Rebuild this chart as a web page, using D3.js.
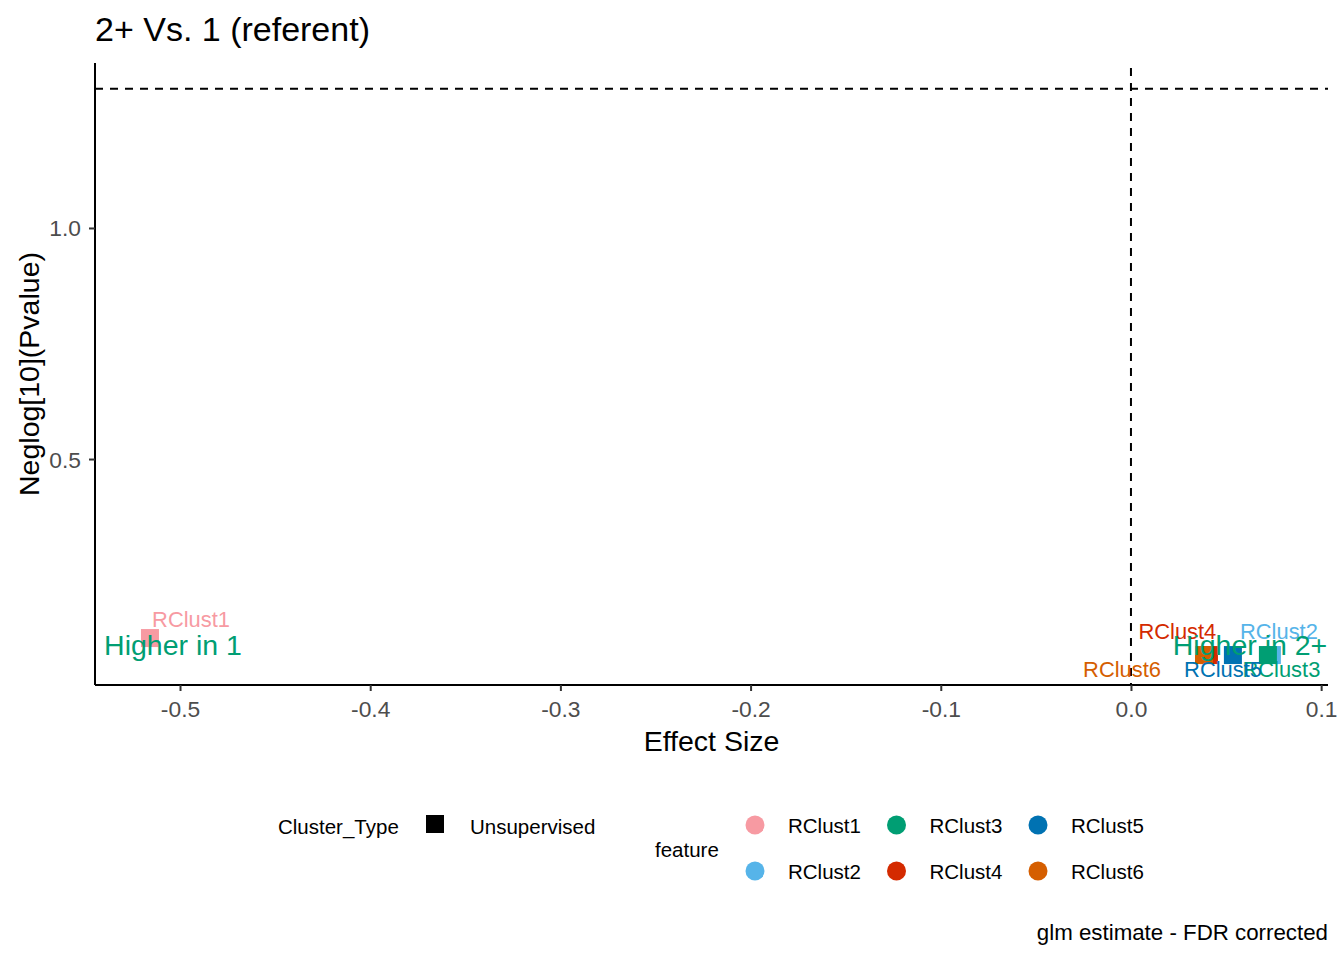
<!DOCTYPE html>
<html>
<head>
<meta charset="utf-8">
<script src="https://cdn.jsdelivr.net/npm/d3@7"></script>
<style>
  body { margin: 0; background: #fff; }
  text { font-family: "Liberation Sans", Arial, sans-serif; }
</style>
</head>
<body>
<div id="chart"></div>
<script>
// Data
const features = ["RClust1", "RClust2", "RClust3", "RClust4", "RClust5", "RClust6"];
const effect = [-0.5158, 0.0741, 0.0720, 0.0410, 0.0536, 0.0384];
const negLogP = [0.1126, 0.0758, 0.0758, 0.0758, 0.0758, 0.0758];
// repelled label anchors (data units)
const labelX = [-0.4942, 0.0778, 0.0791, 0.0244, 0.0484, -0.0047];
const labelY = [0.1537, 0.1277, 0.0455, 0.1277, 0.0455, 0.0455];
const colors = ["#F79AA2", "#56B4E9", "#009E73", "#D42A00", "#0072B2", "#D55E00"];
const xTicks = [-0.5, -0.4, -0.3, -0.2, -0.1, 0.0, 0.1];
const yTicks = [0.5, 1.0];
const sigLine = -Math.log10(0.05);
const notes = [
  { text: "Higher in 1", x: -0.5037, y: 0.0974 },
  { text: "Higher in 2+", x: 0.0626, y: 0.0974 }
];

const W = 1344, H = 960;
const m = { left: 95, right: 1328, top: 63, bottom: 685 };

const svg = d3.select("#chart").append("svg")
    .attr("width", W)
    .attr("height", H);

const x = d3.scaleLinear().domain([-0.5447, 0.1036]).range([m.left, m.right]);
const y = d3.scaleLinear().domain([0.011, 1.357]).range([m.bottom, m.top]);

// hyphen instead of unicode minus, like R
const fmt = d => d.toFixed(1);

// reference lines
svg.append("line")
    .attr("x1", m.left).attr("x2", m.right)
    .attr("y1", y(sigLine)).attr("y2", y(sigLine))
    .attr("stroke", "#000").attr("stroke-width", 2)
    .attr("stroke-dasharray", "8,7");
svg.append("line")
    .attr("x1", x(0)).attr("x2", x(0))
    .attr("y1", m.top + 5).attr("y2", m.bottom)
    .attr("stroke", "#000").attr("stroke-width", 2)
    .attr("stroke-dasharray", "8,7");

// axes
const xAxis = svg.append("g")
    .attr("transform", `translate(0,${m.bottom})`)
    .call(d3.axisBottom(x).tickValues(xTicks).tickFormat(fmt).tickSize(6).tickSizeOuter(0));
const yAxis = svg.append("g")
    .attr("transform", `translate(${m.left},0)`)
    .call(d3.axisLeft(y).tickValues(yTicks).tickFormat(fmt).tickSize(6).tickSizeOuter(0));

[xAxis, yAxis].forEach(g => {
    g.select(".domain").attr("stroke", "#000").attr("stroke-width", 2);
    g.selectAll(".tick line").attr("stroke", "#333").attr("stroke-width", 2);
    g.selectAll(".tick text")
        .attr("fill", "#4D4D4D")
        .style("font-size", "22.8px")
        .style("font-family", "'Liberation Sans', Arial, sans-serif");
});
xAxis.selectAll(".tick text").attr("dy", null).attr("y", 32);
yAxis.selectAll(".tick text").attr("x", -14).attr("dy", "0.35em");
xAxis.select(".domain").attr("d", `M${m.left},0H${m.right}`);
yAxis.select(".domain").attr("d", `M0,${m.top}V${m.bottom}`);

// points (squares)
const sq = 18;
svg.append("g").selectAll("rect")
    .data(features)
    .join("rect")
    .attr("x", (d, i) => x(effect[i]) - sq / 2)
    .attr("y", (d, i) => y(negLogP[i]) - sq / 2)
    .attr("width", sq)
    .attr("height", sq)
    .attr("fill", (d, i) => colors[i]);

// point labels
svg.append("g").selectAll("text")
    .data(features)
    .join("text")
    .attr("x", (d, i) => x(labelX[i]))
    .attr("y", (d, i) => y(labelY[i]))
    .attr("text-anchor", "middle")
    .attr("dominant-baseline", "central")
    .attr("fill", (d, i) => colors[i])
    .style("font-size", "21.9px")
    .text(d => d);

// annotations
svg.append("g").selectAll("text")
    .data(notes)
    .join("text")
    .attr("x", d => x(d.x))
    .attr("y", d => y(d.y))
    .attr("text-anchor", "middle")
    .attr("dominant-baseline", "central")
    .attr("fill", "#009E73")
    .style("font-size", "28.5px")
    .text(d => d.text);

// titles
svg.append("text")
    .attr("x", 95).attr("y", 41)
    .style("font-size", "34px")
    .text("2+ Vs. 1 (referent)");
svg.append("text")
    .attr("x", (m.left + m.right) / 2).attr("y", 751)
    .attr("text-anchor", "middle")
    .style("font-size", "28.5px")
    .text("Effect Size");
svg.append("text")
    .attr("transform", `translate(39,${(m.top + m.bottom) / 2}) rotate(-90)`)
    .attr("text-anchor", "middle")
    .style("font-size", "28.5px")
    .text("Neglog[10](Pvalue)");
svg.append("text")
    .attr("x", 1328).attr("y", 940)
    .attr("text-anchor", "end")
    .style("font-size", "22.3px")
    .text("glm estimate - FDR corrected");

// legend: Cluster_Type
const legFont = "20.5px";
svg.append("text")
    .attr("x", 278).attr("y", 826)
    .attr("dominant-baseline", "central")
    .style("font-size", legFont)
    .text("Cluster_Type");
svg.append("rect")
    .attr("x", 426).attr("y", 815)
    .attr("width", 18).attr("height", 18)
    .attr("fill", "#000");
svg.append("text")
    .attr("x", 470).attr("y", 826)
    .attr("dominant-baseline", "central")
    .style("font-size", legFont)
    .text("Unsupervised");

// legend: feature
svg.append("text")
    .attr("x", 655).attr("y", 849)
    .attr("dominant-baseline", "central")
    .style("font-size", legFont)
    .text("feature");
const legCol = d3.scalePoint().domain([0, 1, 2]).range([755, 1038]);
const legRow = d3.scalePoint().domain([0, 1]).range([825, 871]);
const leg = svg.append("g").selectAll("g")
    .data(features)
    .join("g")
    .attr("transform", (d, i) => `translate(${legCol(Math.floor(i / 2))},${legRow(i % 2)})`);
leg.append("circle")
    .attr("r", 9.5)
    .attr("fill", (d, i) => colors[i]);
leg.append("text")
    .attr("x", 33)
    .attr("dominant-baseline", "central")
    .style("font-size", legFont)
    .text(d => d);
</script>
</body>
</html>
